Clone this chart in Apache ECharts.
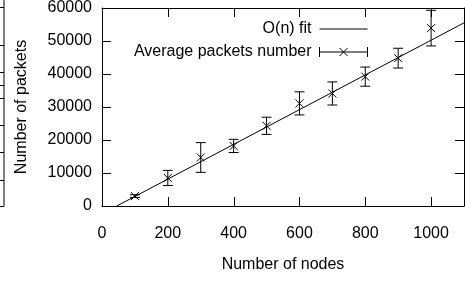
<!DOCTYPE html>
<html>
<head>
<meta charset="utf-8">
<script src="https://cdn.jsdelivr.net/npm/echarts@6/dist/echarts.min.js"></script>
<style>
  html, body { margin: 0; padding: 0; background: #fff; }
  #chart { width: 465px; height: 282px; }
</style>
</head>
<body>
<div id="chart"></div>
<script>
// measured data
var nodes = [100, 200, 300, 400, 500, 600, 700, 800, 900, 1000];
var avgPackets = [3000, 8500, 14700, 18200, 24300, 31100, 34100, 39200, 44800, 53900];
var errPackets = [400, 2300, 4500, 2000, 2600, 3500, 3500, 2900, 3000, 5400];
// O(n) fit, end points
var fitLine = [[45, 0], [1100, 55500]];
// axes
var xRange = [0, 1100];
var yRange = [0, 60000];
var xTicks = [0, 200, 400, 600, 800, 1000];
var yTicks = [0, 10000, 20000, 30000, 40000, 50000, 60000];

var font = "'Liberation Sans', Arial, sans-serif";
var TICK = 9;

var myChart = echarts.init(document.getElementById('chart'));

function seg(x1, y1, x2, y2) {
    return { type: 'line', shape: { x1: x1, y1: y1, x2: x2, y2: y2 }, style: { stroke: '#000', lineWidth: 1 } };
}

function errorBar(params, api) {
    var x = api.value(0), y = api.value(1), e = api.value(2);
    var c = api.coord([x, y]);
    var hi = api.coord([x, y + e]);
    var lo = api.coord([x, y - e]);
    return {
        type: 'group',
        children: [
            seg(c[0], hi[1], c[0], lo[1]),
            seg(c[0] - 5, hi[1], c[0] + 5, hi[1]),
            seg(c[0] - 5, lo[1], c[0] + 5, lo[1]),
            seg(c[0] - 4, c[1] - 4, c[0] + 4, c[1] + 4),
            seg(c[0] - 4, c[1] + 4, c[0] + 4, c[1] - 4)
        ]
    };
}

// gnuplot style inward ticks on all four sides
function xTick(params, api) {
    var v = api.value(0);
    var b = api.coord([v, yRange[0]]), t = api.coord([v, yRange[1]]);
    var x = Math.round(b[0]) + 0.5;
    return { type: 'group', children: [seg(x, b[1], x, b[1] - TICK), seg(x, t[1], x, t[1] + TICK)] };
}
function yTick(params, api) {
    var v = api.value(1);
    var l = api.coord([xRange[0], v]), r = api.coord([xRange[1], v]);
    var y = Math.round(l[1]) + 0.5;
    return { type: 'group', children: [seg(l[0], y, l[0] + TICK, y), seg(r[0], y, r[0] - TICK, y)] };
}

function plain(v) { return String(v); }

function axLine() { return { show: true, onZero: false, lineStyle: { color: '#000', width: 1 } }; }
var legendText = { fontFamily: font, fontSize: 16, color: '#000', padding: [0, 3, 0, 0] };
var legendIconStyle = { color: 'rgba(0,0,0,0)', borderColor: '#000', borderWidth: 1 };

var option = {
    animation: false,
    textStyle: { fontFamily: font },
    grid: { left: 102, right: 1, top: 5, bottom: 76 },
    legend: [{
        data: [{ name: 'O(n) fit', icon: 'path://M0,0M0,5L48,5M48,10' }],
        orient: 'vertical', align: 'right', right: 97, top: 21, padding: 0,
        itemWidth: 48, itemHeight: 10,
        itemStyle: legendIconStyle,
        textStyle: legendText
    }, {
        data: [{
            name: 'Average packets number',
            icon: 'path://M0,0L0,10M0,5L48,5M48,0L48,10M20,1L28,9M20,9L28,1'
        }],
        orient: 'vertical', align: 'right', right: 97, top: 44, padding: 0,
        itemWidth: 48, itemHeight: 10,
        itemStyle: legendIconStyle,
        textStyle: legendText
    }],
    xAxis: [{
        type: 'value', min: xRange[0], max: xRange[1], interval: 200,
        name: 'Number of nodes', nameLocation: 'middle', nameGap: 51,
        nameTextStyle: { fontFamily: font, fontSize: 16, color: '#000' },
        axisLine: axLine(), axisTick: { show: false }, splitLine: { show: false },
        axisLabel: { fontFamily: font, fontSize: 16, color: '#000', margin: 20, showMaxLabel: false, formatter: plain }
    }, {
        type: 'value', position: 'top', min: xRange[0], max: xRange[1], interval: 200,
        axisLine: axLine(), axisTick: { show: false }, splitLine: { show: false },
        axisLabel: { show: false }
    }],
    yAxis: [{
        type: 'value', min: yRange[0], max: yRange[1], interval: 10000,
        name: 'Number of packets', nameLocation: 'middle', nameGap: 72,
        nameTextStyle: { fontFamily: font, fontSize: 16, color: '#000' },
        axisLine: axLine(), axisTick: { show: false }, splitLine: { show: false },
        axisLabel: { fontFamily: font, fontSize: 16, color: '#000', margin: 10, formatter: plain }
    }, {
        type: 'value', position: 'right', min: yRange[0], max: yRange[1], interval: 10000,
        axisLine: axLine(), axisTick: { show: false }, splitLine: { show: false },
        axisLabel: { show: false }
    }],
    series: [{
        name: 'O(n) fit',
        type: 'line',
        data: fitLine,
        symbol: 'none',
        lineStyle: { color: '#000', width: 1 },
        itemStyle: { color: '#000' }
    }, {
        name: 'Average packets number',
        type: 'custom',
        data: nodes.map(function (n, i) { return [n, avgPackets[i], errPackets[i]]; }),
        encode: { x: 0, y: 1 },
        renderItem: errorBar,
        itemStyle: { color: '#000' }
    }, {
        // tick marks; the second coordinate is only an anchor inside the grid
        name: 'xticks',
        type: 'custom',
        silent: true,
        clip: false,
        data: xTicks.map(function (v) { return [v, 30000]; }),
        encode: { x: 0, y: 1 },
        renderItem: xTick
    }, {
        name: 'yticks',
        type: 'custom',
        silent: true,
        clip: false,
        data: yTicks.map(function (v) { return [550, v]; }),
        encode: { x: 0, y: 1 },
        renderItem: yTick
    }],
    // edge of the neighbouring plot cut off at the left
    graphic: [{
        type: 'polyline',
        shape: { points: [[4, 0], [4, 206.5], [0, 206.5]] },
        style: { stroke: '#000', lineWidth: 1, fill: null }
    }].concat([7, 45, 72, 85, 98, 125, 152, 180].map(function (y) {
        return { type: 'line', shape: { x1: 0, y1: y + 0.5, x2: 4, y2: y + 0.5 }, style: { stroke: '#000', lineWidth: 1 } };
    }))
};

myChart.setOption(option);
</script>
</body>
</html>
